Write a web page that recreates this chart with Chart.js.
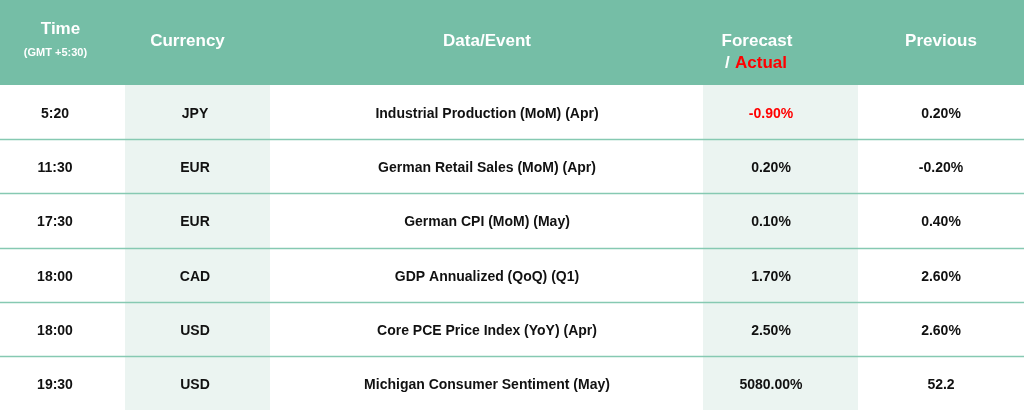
<!DOCTYPE html>
<html><head><meta charset="utf-8">
<script src="https://cdn.jsdelivr.net/npm/chart.js@4"></script>
<style>html,body{margin:0;padding:0;background:#fff}#w{width:1024px;height:410px}</style>
</head><body><div id="w"><canvas id="c"></canvas></div>
<script>
const times = ["5:20","11:30","17:30","18:00","18:00","19:30"];
const currencies = ["JPY","EUR","EUR","CAD","USD","USD"];
const events = ["Industrial Production (MoM) (Apr)","German Retail Sales (MoM) (Apr)","German CPI (MoM) (May)","GDP Annualized (QoQ) (Q1)","Core PCE Price Index (YoY) (Apr)","Michigan Consumer Sentiment (May)"];
const forecasts = ["-0.90%","0.20%","0.10%","1.70%","2.50%","5080.00%"];
const actualFlags = [true,false,false,false,false,false];
const previous = ["0.20%","-0.20%","0.40%","2.60%","2.60%","52.2"];
const headers = ["Time","Currency","Data/Event","Forecast","Previous"];

const colEdges = [0,125,270,703,858,1024];
const headerBottom = 85;
const rowH = 54.2;
const font = "'Liberation Sans', Arial, sans-serif";

const tablePlugin = {
  id:'table',
  afterDraw(chart){
    const ctx = chart.ctx, X = chart.scales.x, Y = chart.scales.y;
    const px = v => X.getPixelForValue(v), py = v => Y.getPixelForValue(v);
    ctx.save();
    // shaded columns
    ctx.fillStyle = '#ebf4f1';
    [1,3].forEach(i=>ctx.fillRect(px(colEdges[i]),py(headerBottom),px(colEdges[i+1])-px(colEdges[i]),py(410)-py(headerBottom)));
    // header
    ctx.fillStyle = '#75bea6';
    ctx.fillRect(px(0),py(0),px(1024)-px(0),py(headerBottom)-py(0));
    ctx.textAlign='center'; ctx.textBaseline='middle';
    const cx = i => (px(colEdges[i])+px(colEdges[i+1]))/2;
    ctx.fillStyle='#fff';
    ctx.font = "bold 17px "+font;
    ctx.fillText("Time", cx(0)-2, py(29));
    ctx.font = "bold 11px "+font;
    ctx.fillText("(GMT +5:30)", cx(0)-7, py(53));
    ctx.font = "bold 17px "+font;
    ctx.fillText("Currency", cx(1)-10, py(41));
    ctx.fillText("Data/Event", 487, py(41));
    ctx.fillText("Forecast", 757, py(41));
    ctx.fillText("Previous", 941, py(41));
    ctx.textAlign='left';
    ctx.fillText("/ ", 725, py(63));
    ctx.fillStyle='#ff0000';
    ctx.fillText("Actual", 735, py(63));
    // rows
    ctx.textAlign='center';
    ctx.font = "bold 14px "+font;
    for(let r=0;r<times.length;r++){
      const yc = py(headerBottom + rowH*r + rowH/2 + 2);
      ctx.fillStyle='#111';
      ctx.fillText(times[r], 55, yc);
      ctx.fillText(currencies[r], 195, yc);
      ctx.fillText(events[r], 487, yc);
      ctx.fillStyle = actualFlags[r] ? '#ff0000' : '#111';
      ctx.fillText(forecasts[r], 771, yc);
      ctx.fillStyle='#111';
      ctx.fillText(previous[r], 941, yc);
      if(r<times.length-1){
        ctx.strokeStyle='#86c9b2'; ctx.lineWidth=1.5;
        const yl = Math.round(py(headerBottom + rowH*(r+1)))+0.5;
        ctx.beginPath(); ctx.moveTo(px(0),yl); ctx.lineTo(px(1024),yl); ctx.stroke();
      }
    }
    ctx.restore();
  }
};

new Chart(document.getElementById('c'),{
  type:'scatter',
  data:{datasets:[{data:[],pointRadius:0}]},
  options:{
    responsive:true, maintainAspectRatio:false, animation:false,
    layout:{padding:0},
    plugins:{legend:{display:false},tooltip:{enabled:false}},
    scales:{
      x:{type:'linear',min:0,max:1024,display:false},
      y:{type:'linear',min:0,max:410,reverse:true,display:false}
    }
  },
  plugins:[tablePlugin]
});
</script></body></html>
